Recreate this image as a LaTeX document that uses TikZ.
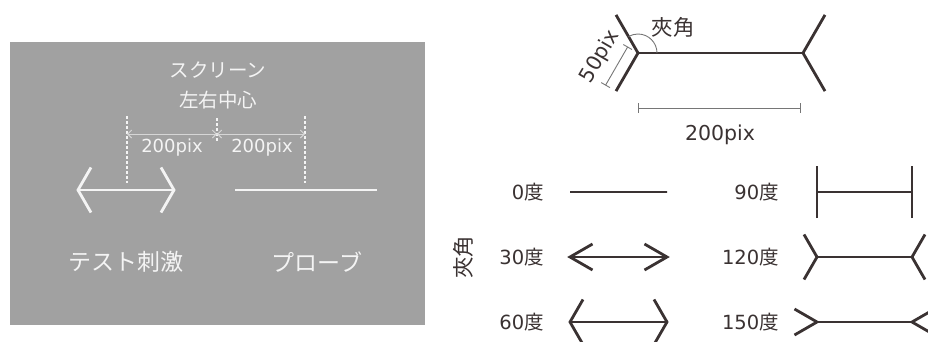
\documentclass[tikz,border=0pt]{standalone}
\usepackage{fontspec}
\setmainfont{DejaVu Sans}
\newfontfamily\jpfont{Noto Sans CJK JP}
\usetikzlibrary{arrows.meta, positioning, calc}
\definecolor{screengray}{RGB}{161,161,161}
\definecolor{stimwhite}{RGB}{244,244,244}
\definecolor{guidegray}{RGB}{214,214,214}
\definecolor{inkdark}{RGB}{58,50,50}
\definecolor{dimgray}{RGB}{118,118,118}
\tikzset{
  screenlabel/.style={text=stimwhite, inner sep=0pt, font={\jpfont\fontsize{19.5}{22}\selectfont}},
  stimlabel/.style={text=stimwhite, inner sep=0pt, font={\jpfont\fontsize{23}{26}\selectfont}},
  pixlabel/.style={text=stimwhite, inner sep=0pt, font={\fontsize{18}{20}\selectfont}},
  dimlabel/.style={text=inkdark, inner sep=0pt, font={\fontsize{20.5}{24}\selectfont}},
  leglabel/.style={text=inkdark, inner sep=0pt, font={\fontsize{19.5}{22}\selectfont}},
  anglelabel/.style={text=inkdark, inner sep=0pt, font={\jpfont\fontsize{21.5}{24}\selectfont}},
  stimline/.style={draw=stimwhite, line width=2.8pt},
  guideline/.style={draw=stimwhite, line width=2pt, dash pattern=on 2.5pt off 2.5pt},
  guidearrow/.style={draw=guidegray, line width=0.9pt, {Straight Barb[length=4pt,width=8pt]}-{Straight Barb[length=4pt,width=8pt]}},
  legline/.style={draw=inkdark, line width=2.8pt},
  dimrule/.style={draw=dimgray, line width=0.9pt}
}
\begin{document}
\begin{tikzpicture}[x=1pt, y=-1pt]
  \clip (0,0) rectangle (928,341);
  % screen
  \fill[screengray] (10,42) rectangle (425,325);
  \node[screenlabel] (scr) at (218,70) {スクリーン};
  \node[screenlabel] (ctr) at (218,100) {左右中心};
  \coordinate (ctop) at (217,118);
  \coordinate (cbot) at (217,142);
  \coordinate (ltop) at (127,116);
  \coordinate (lbot) at (127,183);
  \coordinate (rtop) at (305,116);
  \coordinate (rbot) at (305,183);
  \draw[guideline] (ctop) -- (cbot);
  \draw[guideline] (ltop) -- (lbot);
  \draw[guideline] (rtop) -- (rbot);
  \draw[guidearrow] (127,134) coordinate (la) -- (217,134) coordinate (ca);
  \draw[guidearrow] (ca) -- (305,134) coordinate (ra);
  \node[pixlabel] (lpix) at (172,148) {200pix};
  \node[pixlabel] (rpix) at (262,148) {200pix};
  % test stimulus and probe
  \coordinate (s1) at (78,190);
  \coordinate (s2) at (174,190);
  \draw[stimline] (s1) -- (s2);
  \draw[stimline] ($(s1)+(60:26)$) -- (s1) -- ($(s1)+(-60:26)$);
  \draw[stimline] ($(s2)+(120:26)$) -- (s2) -- ($(s2)+(240:26)$);
  \coordinate (p1) at (235,190);
  \coordinate (p2) at (377,190);
  \draw[stimline] (p1) -- (p2);
  \node[stimlabel] (stim) at (126,262) {テスト刺激};
  \node[stimlabel] (probe) at (317,262) {プローブ};
  % definition of the fins
  \coordinate (av) at (638,53);
  \coordinate (bv) at (803,53);
  \draw[legline] (av) -- (bv);
  \draw[legline] ($(av)+(120:44)$) coordinate (aw) -- (av) -- ($(av)+(-120:44)$);
  \draw[legline] ($(bv)+(60:44)$) -- (bv) -- ($(bv)+(-60:44)$);
  \draw[dimrule] ($(av)+(19pt,0pt)$) arc[start angle=0, end angle=120, radius=19pt];
  \node[anglelabel] (ang) at (673,27) {夾角};
  \draw[dimrule] ($(aw)!12pt!90:(av)$) -- ($(av)!12pt!-90:(aw)$);
  \draw[dimrule] ($(aw)!7pt!90:(av)$) -- ($(aw)!17pt!90:(av)$);
  \draw[dimrule] ($(av)!7pt!-90:(aw)$) -- ($(av)!17pt!-90:(aw)$);
  \coordinate (am) at ($(aw)!0.5!(av)$);
  \node[dimlabel, rotate=60] (fifty) at ($(am)!31pt!90:(av)$) {50pix};
  \coordinate (h1) at ($(av)+(0,55)$);
  \coordinate (h2) at ($(bv)+(-3,55)$);
  \draw[dimrule] (h1) -- (h2);
  \draw[dimrule] ($(h1)+(0,-5)$) -- ($(h1)+(0,5)$);
  \draw[dimrule] ($(h2)+(0,-5)$) -- ($(h2)+(0,5)$);
  \node[dimlabel] (twohundred) at (720,135) {200pix};
  % legend of angles
  \node[anglelabel, rotate=90] (legang) at (463,257) {夾角};
  \foreach \ang/\xl/\xr/\xt/\yy in {0/570/667/544/192, 30/570/667/544/257, 60/570/667/544/322,
    90/817/912/779/192, 120/817/912/779/257, 150/817/912/779/322}{
    \coordinate (l\ang) at (\xl,\yy);
    \coordinate (r\ang) at (\xr,\yy);
    \node[leglabel, anchor=east] (t\ang) at (\xt,\yy) {\ang{\jpfont 度}};
    \draw[legline] (l\ang) -- (r\ang);
    \draw[legline] ($(l\ang)+(\ang:26)$) -- (l\ang) -- ($(l\ang)+(-\ang:26)$);
    \draw[legline] ($(r\ang)+(180-\ang:26)$) -- (r\ang) -- ($(r\ang)+(180+\ang:26)$);
  }
\end{tikzpicture}
\end{document}
